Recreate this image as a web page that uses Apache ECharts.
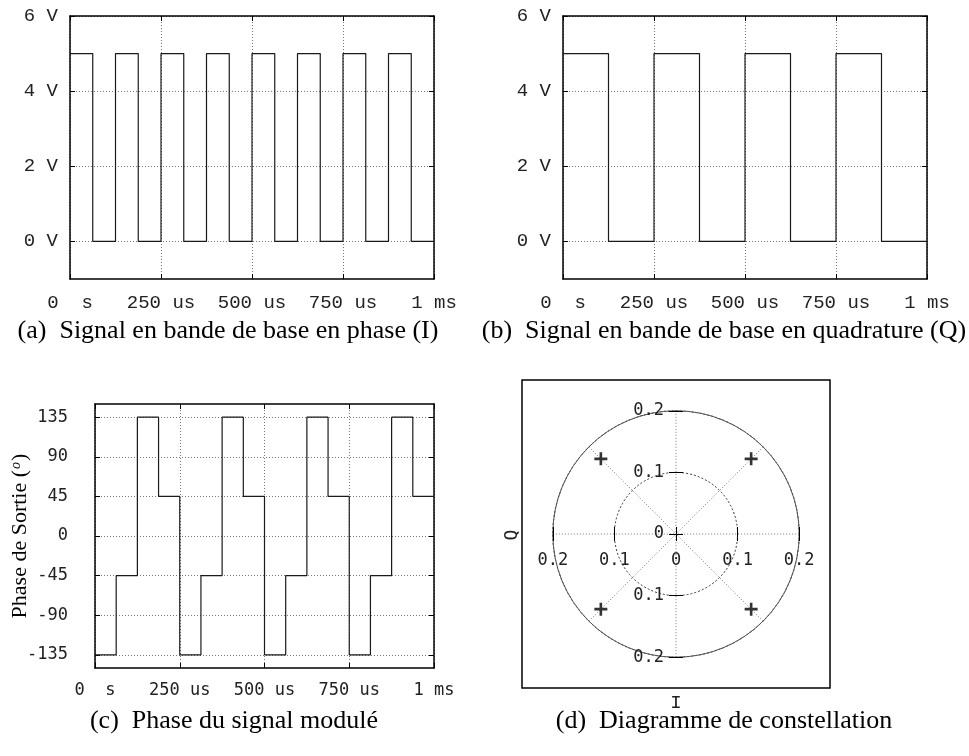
<!DOCTYPE html>
<html>
<head>
<meta charset="utf-8">
<script src="https://cdn.jsdelivr.net/npm/echarts@6/dist/echarts.min.js"></script>
<style>
  html, body { margin: 0; padding: 0; background: #fff; }
  #chart { width: 969px; height: 756px; }
</style>
</head>
<body>
<div id="chart"></div>
<script>
// ---- données ----
const bitTimes = [0, 62.5, 125, 187.5, 250, 312.5, 375, 437.5, 500, 562.5, 625, 687.5, 750, 812.5, 875, 937.5, 1000];
const iVolts   = [5, 0, 5, 0, 5, 0, 5, 0, 5, 0, 5, 0, 5, 0, 5, 0, 0];
const qVolts   = [5, 5, 0, 0, 5, 5, 0, 0, 5, 5, 0, 0, 5, 5, 0, 0, 0];
const phaseDeg = [-135, -45, 135, 45, -135, -45, 135, 45, -135, -45, 135, 45, -135, -45, 135, 45, 45];

const timeTicks = [0, 250, 500, 750, 1000];
const timeTickLabels = ["0  s", "250 us", "500 us", "750 us", "1 ms"];
const voltTicks = [0, 2, 4, 6];
const voltTickLabels = ["0 V", "2 V", "4 V", "6 V"];
const phaseTicks = [-135, -90, -45, 0, 45, 90, 135];
const phaseTickLabels = ["-135", "-90", "-45", "0", "45", "90", "135"];

// constellation (I, Q)
const constI = [0.122, -0.122, -0.122, 0.122];
const constQ = [0.122, 0.122, -0.122, -0.122];
const polarTicks = [-0.2, -0.1, 0, 0.1, 0.2];
const polarTickLabels = ["0.2", "0.1", "0", "0.1", "0.2"];

const captions = [
  "(a)  Signal en bande de base en phase (I)",
  "(b)  Signal en bande de base en quadrature (Q)",
  "(c)  Phase du signal modulé",
  "(d)  Diagramme de constellation",
];

// ---- styles ----
const MONO_AB = "Liberation Mono";
const MONO_CD = "DejaVu Sans Mono";
const SERIF = "Liberation Serif";
const GRID_LINE = { type: [1, 2], color: "#777", width: 1 };

function labelOf(ticks, labels) {
  return v => {
    const i = ticks.findIndex(t => Math.abs(t - v) < 1e-9);
    return i < 0 ? "" : labels[i];
  };
}

// axe principal + axe miroir (bordure du cadre, tics vers l'intérieur)
function boxAxes(dim, gridIndex, min, max, ticks, labels, font, size, margin) {
  const main = {
    gridIndex, type: "value", min, max,
    position: dim === "x" ? "bottom" : "left",
    axisLine: { show: true, onZero: false, lineStyle: { color: "#000", width: 1.5 } },
    axisTick: { show: true, inside: true, length: 5, customValues: ticks, lineStyle: { color: "#000" } },
    axisLabel: { customValues: ticks, formatter: labelOf(ticks, labels), margin,
                 fontFamily: font, fontSize: size, color: "#222" },
    splitLine: { show: true, lineStyle: GRID_LINE },
  };
  const mirror = {
    gridIndex, type: "value", min, max,
    position: dim === "x" ? "top" : "right",
    axisLine: { show: true, onZero: false, lineStyle: { color: "#000", width: 1.5 } },
    axisTick: { show: true, inside: true, length: 5, customValues: ticks, lineStyle: { color: "#000" } },
    axisLabel: { show: false },
    splitLine: { show: false },
  };
  return [main, mirror];
}

// axes du diagramme de constellation, ramenés au centre du cadre (308/2 = 154)
function centerAxis(gridIndex, showLabels, position, margin) {
  return {
    gridIndex, type: "value", min: -0.25, max: 0.25, position, offset: -154,
    axisLine: { show: false, onZero: false },
    axisTick: { show: true, inside: true, length: 7, customValues: polarTicks, lineStyle: { color: "#000" } },
    axisLabel: showLabels
      ? { customValues: polarTicks, formatter: labelOf(polarTicks, polarTickLabels), margin,
          fontFamily: MONO_CD, fontSize: 17, color: "#222" }
      : { show: false },
    splitLine: { show: false },
  };
}

const xAxis = [
  ...boxAxes("x", 0, 0, 1000, timeTicks, timeTickLabels, MONO_AB, 19, 14),
  ...boxAxes("x", 1, 0, 1000, timeTicks, timeTickLabels, MONO_AB, 19, 14),
  ...boxAxes("x", 2, 0, 1000, timeTicks, timeTickLabels, MONO_CD, 17, 14),
  centerAxis(3, true, "bottom", 18),
  centerAxis(3, false, "top", 0),
];
const yAxis = [
  ...boxAxes("y", 0, -1, 6, voltTicks, voltTickLabels, MONO_AB, 19, 12),
  ...boxAxes("y", 1, -1, 6, voltTicks, voltTickLabels, MONO_AB, 19, 12),
  ...boxAxes("y", 2, -150, 150, phaseTicks, phaseTickLabels, MONO_CD, 17, 27),
  centerAxis(3, true, "left", 12),
  centerAxis(3, false, "right", 0),
];

const stepLine = (xi, values) => ({
  type: "line", step: "end", xAxisIndex: xi, yAxisIndex: xi,
  data: bitTimes.map((t, k) => [t, values[k]]),
  symbol: "none", lineStyle: { color: "#1a1a1a", width: 1.2 },
});

const caption = (text, x, y) => ({
  type: "text", x, y,
  style: { text, fontFamily: SERIF, fontSize: 26, fill: "#000", align: "center", verticalAlign: "middle" },
});

const option = {
  animation: false,
  backgroundColor: "#fff",
  grid: [
    { left: 70, top: 16, width: 364, height: 263, outerBoundsMode: "none" },
    { left: 563, top: 16, width: 364, height: 263, outerBoundsMode: "none" },
    { left: 95, top: 404, width: 339, height: 264, outerBoundsMode: "none" },
    { left: 522, top: 380, width: 308, height: 308, outerBoundsMode: "none",
      show: true, borderColor: "#000", borderWidth: 1.5, backgroundColor: "transparent" },
  ],
  xAxis,
  yAxis,
  polar: { center: [676, 534], radius: 123.2 },
  angleAxis: {
    type: "value", min: 0, max: 360, interval: 45, startAngle: 0,
    axisLine: { show: true, lineStyle: { color: "#555", width: 1 } },
    axisTick: { show: false }, axisLabel: { show: false },
    splitLine: { show: true, lineStyle: GRID_LINE },
  },
  radiusAxis: {
    type: "value", min: 0, max: 0.2, interval: 0.1,
    axisLine: { show: false }, axisTick: { show: false }, axisLabel: { show: false },
    splitLine: { show: true, lineStyle: { type: [2, 2], color: "#333", width: 1 } },
  },
  series: [
    stepLine(0, iVolts),
    stepLine(2, qVolts),
    stepLine(4, phaseDeg),
    {
      type: "scatter", xAxisIndex: 6, yAxisIndex: 6,
      data: constI.map((v, k) => [v, constQ[k]]),
      symbol: "path://M4,0H6V4H10V6H6V10H4V6H0V4H4Z", symbolSize: 13,
      itemStyle: { color: "#000" },
    },
  ],
  graphic: [
    caption(captions[0], 228, 331),
    caption(captions[1], 724, 331),
    caption(captions[2], 234, 721),
    caption(captions[3], 724, 721),
    {
      type: "text", x: 20, y: 536, rotation: Math.PI / 2,
      style: {
        text: "Phase de Sortie ({sup|o})",
        fontFamily: SERIF, fontSize: 22, fill: "#000", align: "center", verticalAlign: "middle",
        rich: { sup: { fontFamily: SERIF, fontSize: 14, fontStyle: "italic", verticalAlign: "top", padding: [0, 1, 8, 1] } },
      },
    },
    {
      type: "text", x: 512, y: 535, rotation: Math.PI / 2,
      style: { text: "Q", fontFamily: MONO_CD, fontSize: 18, fill: "#222", align: "center", verticalAlign: "middle" },
    },
    {
      type: "text", x: 676, y: 703,
      style: { text: "I", fontFamily: MONO_AB, fontSize: 19, fill: "#222", align: "center", verticalAlign: "middle" },
    },
  ],
};

const chart = echarts.init(document.getElementById("chart"), null, { renderer: "canvas" });
chart.setOption(option);
</script>
</body>
</html>
